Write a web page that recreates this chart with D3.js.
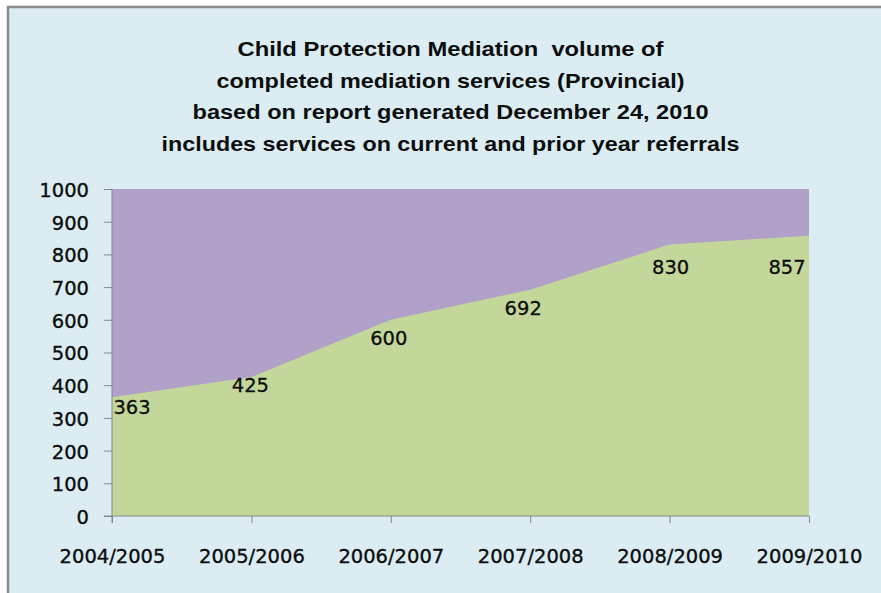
<!DOCTYPE html>
<html>
<head>
<meta charset="utf-8">
<script src="https://cdn.jsdelivr.net/npm/d3@7"></script>
<style>
  html, body { margin: 0; padding: 0; background: #ffffff; }
  svg { display: block; }
  .title text { white-space: pre; }
</style>
</head>
<body>
<svg id="chart" width="881" height="593"></svg>
<script>
// Completed child protection mediation services, by fiscal year
const years = ["2004/2005", "2005/2006", "2006/2007", "2007/2008", "2008/2009", "2009/2010"];
const completed = [363, 425, 600, 692, 830, 857];
const yTicks = [0, 100, 200, 300, 400, 500, 600, 700, 800, 900, 1000];
const titleLines = [
  "Child Protection Mediation  volume of",
  "completed mediation services (Provincial)",
  "based on report generated December 24, 2010",
  "includes services on current and prior year referrals"
];

// Layout: title line widths and data label nudges (dx, dy from the point)
const titleWidths = [426, 468, 516, 578];
const labelNudge = [[20, 17], [-1, 15], [-2, 25], [-7, 25], [1, 29], [-22, 38]];

const svg = d3.select("#chart");
const W = 881, H = 593;

// chart frame
svg.append("rect")
  .attr("x", 8).attr("y", 7)
  .attr("width", W + 10).attr("height", H + 10)
  .attr("fill", "#dbedf3")
  .attr("stroke", "#8a8a8a")
  .attr("stroke-width", 2.5);

// title
const title = svg.append("g")
  .attr("class", "title")
  .attr("font-family", "'Liberation Sans', Arial, sans-serif")
  .attr("font-weight", "bold")
  .attr("font-size", 21)
  .attr("fill", "#0d0d0d");
titleLines.forEach((t, i) => {
  title.append("text")
    .attr("x", 450.5)
    .attr("y", 56 + i * 31.6)
    .attr("text-anchor", "middle")
    .attr("textLength", titleWidths[i])
    .attr("lengthAdjust", "spacingAndGlyphs")
    .text(t);
});

const plotL = 112, plotR = 809, plotT = 189, plotB = 516;

const x = d3.scalePoint().domain(years).range([plotL, plotR]);
const y = d3.scaleLinear().domain([0, 1000]).range([plotB, plotT]);

// remaining headroom up to 1000
svg.append("rect")
  .attr("x", plotL).attr("y", y(1000))
  .attr("width", plotR - plotL).attr("height", y(0) - y(1000))
  .attr("fill", "#b1a0c7");

// completed services area
const area = d3.area()
  .x((d, i) => x(years[i]))
  .y0(y(0))
  .y1(d => y(d));
svg.append("path")
  .datum(completed)
  .attr("d", area)
  .attr("fill", "#c4d79b");

// axes
const axisFont = "'DejaVu Sans', Verdana, sans-serif";
const ink = "#0d0d0d";
const yAxis = svg.append("g")
  .attr("transform", `translate(${plotL},0)`)
  .call(d3.axisLeft(y).tickValues(yTicks).tickSize(8).tickPadding(15).tickFormat(d3.format("d")));
yAxis.select(".domain").attr("stroke", "#868686").attr("d", `M0,${plotT}V${plotB + 7}`);
yAxis.selectAll(".tick line").attr("stroke", "#868686");
yAxis.selectAll("text")
  .attr("font-family", axisFont).attr("font-size", 19.5).attr("fill", ink)
  .attr("stroke", ink).attr("stroke-width", 0.35)
  .attr("dy", "0.38em");

const xAxis = svg.append("g")
  .attr("transform", `translate(0,${plotB})`)
  .call(d3.axisBottom(x).tickSize(7).tickPadding(26));
xAxis.select(".domain").attr("stroke", "#868686").attr("d", `M${plotL - 8},0H${plotR}`);
xAxis.selectAll(".tick line").attr("stroke", "#868686");
xAxis.selectAll("text")
  .attr("font-family", axisFont).attr("font-size", 19.5).attr("fill", ink)
  .attr("stroke", ink).attr("stroke-width", 0.35);

// data labels
svg.append("g")
  .selectAll("text")
  .data(completed)
  .join("text")
  .attr("x", (d, i) => x(years[i]) + labelNudge[i][0])
  .attr("y", (d, i) => y(d) + labelNudge[i][1])
  .attr("text-anchor", "middle")
  .attr("font-family", axisFont)
  .attr("font-size", 19.5)
  .attr("fill", ink)
  .attr("stroke", ink).attr("stroke-width", 0.3)
  .text(d => d);
</script>
</body>
</html>
